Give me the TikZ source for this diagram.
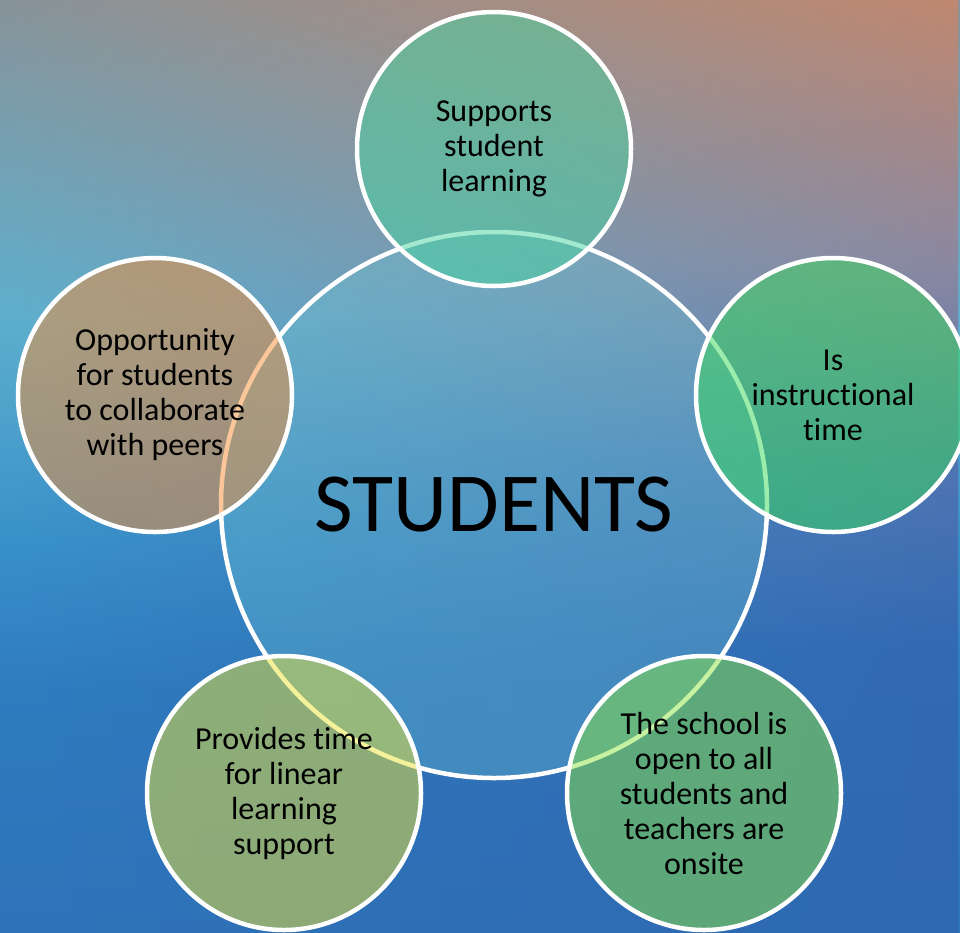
\documentclass[tikz,border=0pt]{standalone}
\usepackage{fontspec}
\setmainfont[Ligatures={NoCommon,NoContextual}]{Carlito}
\usetikzlibrary{fadings}
\definecolor{topC}{RGB}{72,212,160}
\definecolor{rightC}{RGB}{58,220,90}
\definecolor{brC}{RGB}{140,228,66}
\definecolor{blC}{RGB}{236,228,56}
\definecolor{leftC}{RGB}{246,142,54}
\definecolor{centerC}{HTML}{70C8D4}
\pgfdeclareverticalshading{leftcol}{100bp}{%
  color(0bp)=(rgb,255:red,46;green,116;blue,186);
  color(25bp)=(rgb,255:red,46;green,116;blue,186);
  color(38bp)=(rgb,255:red,47;green,124;blue,191);
  color(46bp)=(rgb,255:red,56;green,146;blue,202);
  color(58bp)=(rgb,255:red,94;green,176;blue,206);
  color(75bp)=(rgb,255:red,136;green,148;blue,154);
  color(100bp)=(rgb,255:red,136;green,148;blue,154)}
\pgfdeclareverticalshading{rightcol}{100bp}{%
  color(0bp)=(rgb,255:red,47;green,104;blue,176);
  color(25bp)=(rgb,255:red,47;green,104;blue,176);
  color(40bp)=(rgb,255:red,50;green,105;blue,178);
  color(50bp)=(rgb,255:red,80;green,116;blue,178);
  color(61bp)=(rgb,255:red,140;green,136;blue,160);
  color(75bp)=(rgb,255:red,192;green,136;blue,112);
  color(100bp)=(rgb,255:red,192;green,136;blue,112)}
\tikzfading[name=fadeR, left color=transparent!100, middle color=transparent!55, right color=transparent!0]
\tikzset{
  bubble/.style={circle, draw=white, line width=4.5pt, minimum size=274pt,
    inner sep=0pt, fill opacity=0.5, text opacity=1, align=center,
    font=\fontsize{32}{35}\selectfont, text=black},
  hub/.style={circle, draw=white, line width=4.5pt, minimum size=546pt,
    inner sep=0pt, fill=centerC, fill opacity=0.3, text opacity=1,
    font=\fontsize{84}{90}\selectfont, text=black}
}
\begin{document}
\begin{tikzpicture}[x=1pt,y=-1pt]
\useasboundingbox (0,0) rectangle (960,932);
\begin{scope}
\clip (0,0) rectangle (960,932);
\shade[shading=leftcol] (0,0) rectangle (960,932);
\shade[shading=rightcol, path fading=fadeR] (0,0) rectangle (960,932);
\node[hub] (hub) at (494,505) {STUDENTS};
\node[bubble, fill=topC] (top) at (494,149) {Supports\\student\\learning};
\node[bubble, fill=rightC] (right) at (833,395) {Is\\instructional\\time};
\node[bubble, fill=brC] (br) at (704,793) {The school is\\open to all\\students and\\teachers are\\onsite};
\node[bubble, fill=blC] (bl) at (284,793) {Provides time\\for linear\\learning\\support};
\node[bubble, fill=leftC] (left) at (155,395) {Opportunity\\for students\\to collaborate\\with peers};
\end{scope}
\end{tikzpicture}
\end{document}
